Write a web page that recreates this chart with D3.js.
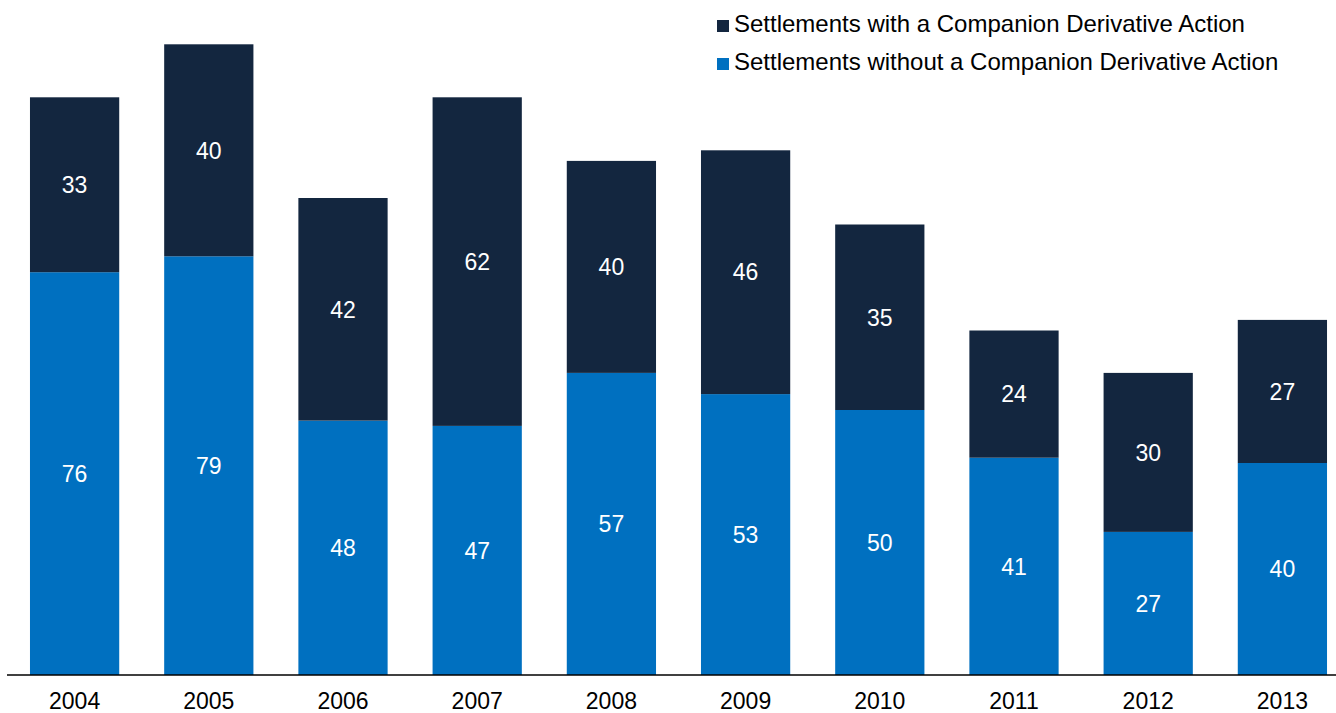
<!DOCTYPE html>
<html>
<head>
<meta charset="utf-8">
<script src="https://cdn.jsdelivr.net/npm/d3@7"></script>
<style>
  html, body { margin: 0; padding: 0; background: #fff; }
  svg { display: block; font-family: "Liberation Sans", Arial, sans-serif; }
</style>
</head>
<body>
<svg id="chart" width="1336" height="713"></svg>
<script>
// Settlement counts by year, split by whether a companion derivative action was filed
const years = ["2004", "2005", "2006", "2007", "2008", "2009", "2010", "2011", "2012", "2013"];
const withoutDerivative = [76, 79, 48, 47, 57, 53, 50, 41, 27, 40];
const withDerivative = [33, 40, 42, 62, 40, 46, 35, 24, 30, 27];
const seriesNames = [
  "Settlements with a Companion Derivative Action",
  "Settlements without a Companion Derivative Action"
];
const colorWith = "#13263f";
const colorWithout = "#0070c0";

const svg = d3.select("#chart");

const x = d3.scaleBand()
  .domain(years)
  .range([7.5, 1349.5])
  .paddingInner(0.335)
  .paddingOuter(0.1675);

const baseline = 675;
const y = d3.scaleLinear()
  .domain([0, 120])
  .range([baseline, baseline - 120 * 5.3]);

const rows = years.map((yr, i) => ({
  year: yr,
  without: withoutDerivative[i],
  with: withDerivative[i]
}));

const stack = d3.stack().keys(["without", "with"]);
const layers = stack(rows);
const fills = { without: colorWithout, with: colorWith };

const g = svg.append("g");

layers.forEach(layer => {
  const grp = g.append("g");
  grp.selectAll("rect")
    .data(layer)
    .join("rect")
    .attr("x", d => x(d.data.year))
    .attr("width", x.bandwidth())
    .attr("y", d => y(d[1]))
    .attr("height", d => y(d[0]) - y(d[1]))
    .attr("fill", fills[layer.key]);

  grp.selectAll("text")
    .data(layer)
    .join("text")
    .attr("x", d => x(d.data.year) + x.bandwidth() / 2)
    .attr("y", d => (y(d[0]) + y(d[1])) / 2)
    .attr("dy", "0.36em")
    .attr("text-anchor", "middle")
    .attr("fill", "#ffffff")
    .attr("font-size", 23)
    .text(d => d[1] - d[0]);
});

// Category axis along the baseline
const axis = d3.axisBottom(x).tickSize(0).tickPadding(18);
const ax = svg.append("g")
  .attr("transform", `translate(0,${baseline})`)
  .call(axis);
ax.select(".domain").attr("stroke", "#000").attr("stroke-width", 1.3).attr("d", "M7,0H1336");
ax.selectAll("text")
  .attr("font-size", 23)
  .attr("font-family", "Liberation Sans, Arial, sans-serif")
  .attr("fill", "#000");

// Legend
const legend = svg.append("g").attr("transform", "translate(717,0)");
const legendItems = [
  { name: seriesNames[0], color: colorWith, base: 31.5 },
  { name: seriesNames[1], color: colorWithout, base: 69.5 }
];
legendItems.forEach(item => {
  legend.append("rect")
    .attr("x", 0)
    .attr("y", item.base - 11.5)
    .attr("width", 12)
    .attr("height", 12)
    .attr("fill", item.color);
  legend.append("text")
    .attr("x", 17)
    .attr("y", item.base)
    .attr("font-size", 24)
    .attr("fill", "#000")
    .text(item.name);
});
</script>
</body>
</html>
